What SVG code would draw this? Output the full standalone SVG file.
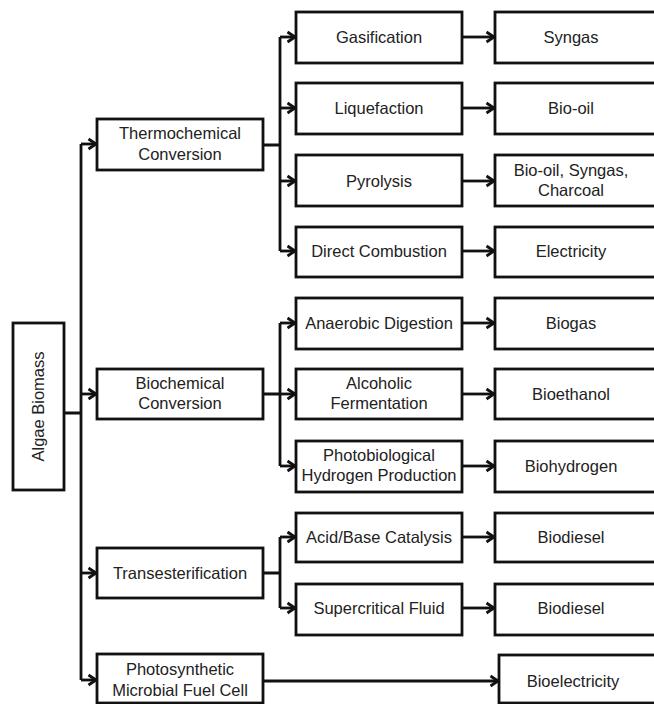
<svg xmlns="http://www.w3.org/2000/svg" width="654" height="704" viewBox="0 0 654 704">
<style>
.box{fill:#fff;stroke:#111;stroke-width:2.8}
.t{font-family:"Liberation Sans",Arial,sans-serif;font-size:16.5px;fill:#222;text-anchor:middle}
.ln{fill:none;stroke:#111;stroke-width:2.8}
.ar{fill:none;stroke:#111;stroke-width:2.8;marker-end:url(#ah)}
</style>
<defs>
<marker id="ah" markerUnits="userSpaceOnUse" markerWidth="12" markerHeight="14" refX="9" refY="6" orient="auto" overflow="visible">
<path d="M1.5,1 L9,6 L1.5,11" fill="none" stroke="#111" stroke-width="2.8"/>
</marker>
</defs>
<rect width="654" height="704" fill="#fff"/>
<g id="connectors">
<path class="ln" d="M64,413 H81 M81,144 V680"/>
<path class="ar" d="M81,144 H96"/>
<path class="ar" d="M81,394 H96"/>
<path class="ar" d="M81,573 H96"/>
<path class="ar" d="M81,680 H96"/>
<path class="ln" d="M263,145 H280 M280,37 V251"/>
<path class="ar" d="M280,37 H295"/>
<path class="ar" d="M280,108 H295"/>
<path class="ar" d="M280,181 H295"/>
<path class="ar" d="M280,251 H295"/>
<path class="ln" d="M263,394 H280 M280,323 V466"/>
<path class="ar" d="M280,323 H295"/>
<path class="ar" d="M280,394 H295"/>
<path class="ar" d="M280,466 H295"/>
<path class="ln" d="M263,573 H280 M280,537 V608"/>
<path class="ar" d="M280,537 H295"/>
<path class="ar" d="M280,608 H295"/>
<path class="ar" d="M462,37 H494"/>
<path class="ar" d="M462,108 H494"/>
<path class="ar" d="M462,181 H494"/>
<path class="ar" d="M462,251 H494"/>
<path class="ar" d="M462,323 H494"/>
<path class="ar" d="M462,394 H494"/>
<path class="ar" d="M462,466 H494"/>
<path class="ar" d="M462,537 H494"/>
<path class="ar" d="M462,608 H494"/>
<path class="ar" d="M263,681 H498"/>
</g>
<g id="algae"><rect class="box" x="13" y="323" width="51" height="167"/><text class="t" transform="translate(44,406.5) rotate(-90)">Algae Biomass</text></g>
<g id="thermo"><rect class="box" x="97" y="119" width="166" height="51"/><text class="t" x="180" y="139">Thermochemical</text><text class="t" x="180" y="160">Conversion</text></g>
<g id="biochem"><rect class="box" x="97" y="369" width="166" height="50"/><text class="t" x="180" y="389">Biochemical</text><text class="t" x="180" y="409">Conversion</text></g>
<g id="trans"><rect class="box" x="97" y="548" width="166" height="50"/><text class="t" x="180" y="579">Transesterification</text></g>
<g id="pmfc"><rect class="box" x="97" y="654" width="166" height="49"/><text class="t" x="180" y="675">Photosynthetic</text><text class="t" x="180" y="696">Microbial Fuel Cell</text></g>
<g id="gasification"><rect class="box" x="296" y="12" width="166" height="51"/><text class="t" x="379" y="43">Gasification</text></g>
<g id="liquefaction"><rect class="box" x="296" y="83" width="166" height="51"/><text class="t" x="379" y="114">Liquefaction</text></g>
<g id="pyrolysis"><rect class="box" x="296" y="155" width="166" height="51"/><text class="t" x="379" y="187">Pyrolysis</text></g>
<g id="combustion"><rect class="box" x="296" y="227" width="166" height="50"/><text class="t" x="379" y="257">Direct Combustion</text></g>
<g id="anaerobic"><rect class="box" x="296" y="298" width="166" height="51"/><text class="t" x="379" y="329">Anaerobic Digestion</text></g>
<g id="alcoholic"><rect class="box" x="296" y="369" width="166" height="50"/><text class="t" x="379" y="389">Alcoholic</text><text class="t" x="379" y="409">Fermentation</text></g>
<g id="photobio"><rect class="box" x="296" y="441" width="166" height="51"/><text class="t" x="379" y="461">Photobiological</text><text class="t" x="379" y="481">Hydrogen Production</text></g>
<g id="acidbase"><rect class="box" x="296" y="513" width="166" height="49"/><text class="t" x="379" y="543">Acid/Base Catalysis</text></g>
<g id="supercritical"><rect class="box" x="296" y="584" width="166" height="51"/><text class="t" x="379" y="614">Supercritical Fluid</text></g>
<g id="syngas"><rect class="box" x="495" y="12" width="170" height="51"/><text class="t" x="571" y="43">Syngas</text></g>
<g id="biooil"><rect class="box" x="495" y="83" width="170" height="51"/><text class="t" x="571" y="114">Bio-oil</text></g>
<g id="pyroprod"><rect class="box" x="495" y="155" width="170" height="51"/><text class="t" x="571" y="176">Bio-oil, Syngas,</text><text class="t" x="571" y="196">Charcoal</text></g>
<g id="electricity"><rect class="box" x="495" y="227" width="170" height="50"/><text class="t" x="571" y="257">Electricity</text></g>
<g id="biogas"><rect class="box" x="495" y="298" width="170" height="51"/><text class="t" x="571" y="329">Biogas</text></g>
<g id="bioethanol"><rect class="box" x="495" y="369" width="170" height="50"/><text class="t" x="571" y="400">Bioethanol</text></g>
<g id="biohydrogen"><rect class="box" x="495" y="441" width="170" height="51"/><text class="t" x="571" y="472">Biohydrogen</text></g>
<g id="biodiesel1"><rect class="box" x="495" y="513" width="170" height="49"/><text class="t" x="571" y="543">Biodiesel</text></g>
<g id="biodiesel2"><rect class="box" x="495" y="584" width="170" height="51"/><text class="t" x="571" y="614">Biodiesel</text></g>
<g id="bioelectricity"><rect class="box" x="499" y="655" width="170" height="48"/><text class="t" x="573" y="687">Bioelectricity</text></g>
</svg>
